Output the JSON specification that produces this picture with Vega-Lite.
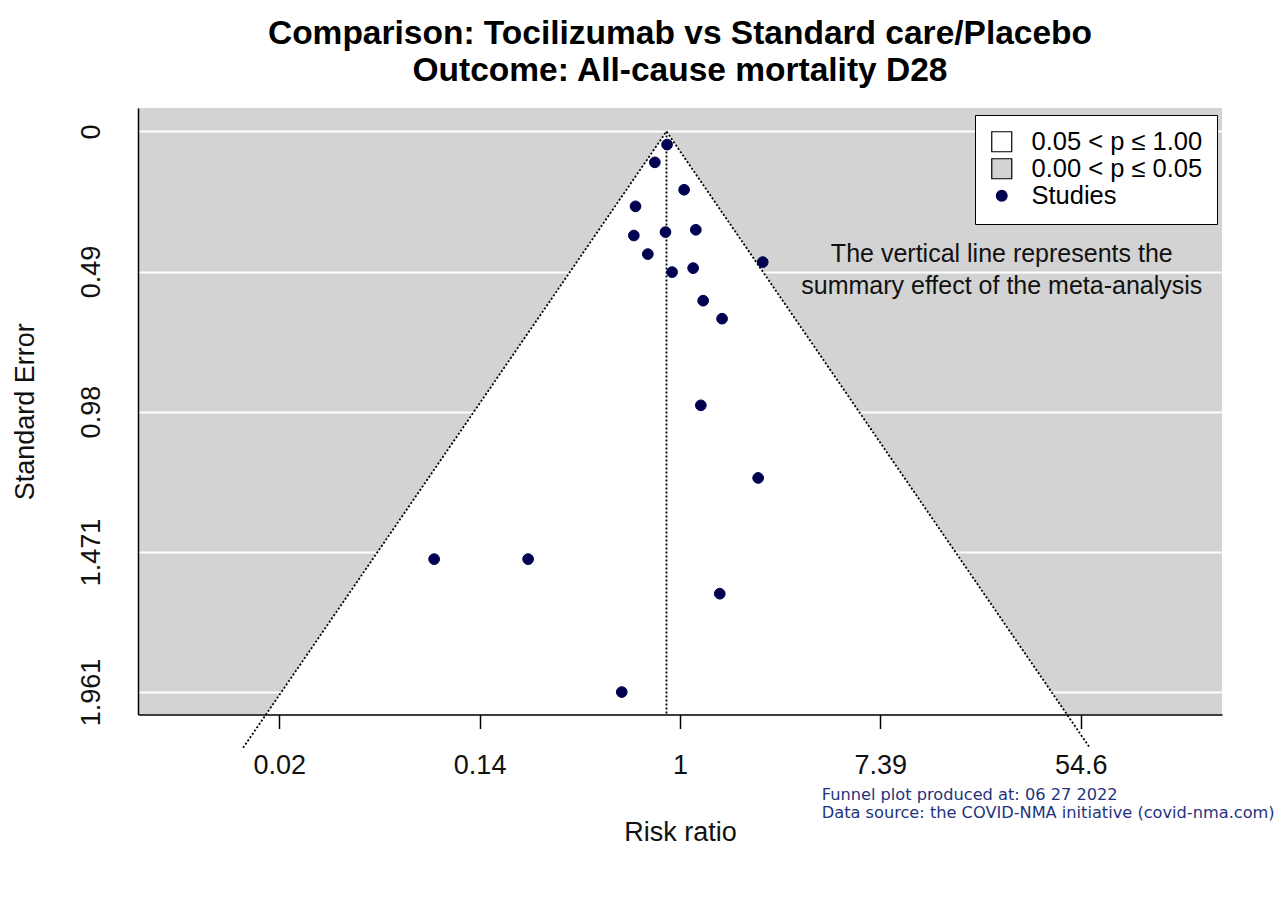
{
  "$schema": "https://vega.github.io/schema/vega-lite/v6.json",
  "width": 1084,
  "height": 606.5,
  "autosize": {"type": "none"},
  "padding": {"left": 138, "top": 108, "right": 66, "bottom": 198.5},
  "background": "white",
  "title": {
    "text": ["Comparison: Tocilizumab vs Standard care/Placebo", "Outcome: All-cause mortality D28"],
    "font": "Liberation Sans",
    "fontSize": 33.5,
    "fontWeight": "bold",
    "color": "black",
    "anchor": "middle",
    "frame": "group",
    "lineHeight": 37,
    "offset": 20
  },
  "config": {
    "view": {"fill": "#d3d3d3", "stroke": null},
    "font": "Liberation Sans"
  },
  "datasets": {
    "studies": [
      {"study": 1, "logrr": -0.129, "se": 0.046, "kind": "Studies"},
      {"study": 2, "logrr": -0.251, "se": 0.108, "kind": "Studies"},
      {"study": 3, "logrr": 0.041, "se": 0.204, "kind": "Studies"},
      {"study": 4, "logrr": -0.444, "se": 0.262, "kind": "Studies"},
      {"study": 5, "logrr": -0.461, "se": 0.364, "kind": "Studies"},
      {"study": 6, "logrr": -0.145, "se": 0.352, "kind": "Studies"},
      {"study": 7, "logrr": 0.158, "se": 0.344, "kind": "Studies"},
      {"study": 8, "logrr": -0.321, "se": 0.429, "kind": "Studies"},
      {"study": 9, "logrr": -0.079, "se": 0.492, "kind": "Studies"},
      {"study": 10, "logrr": 0.131, "se": 0.478, "kind": "Studies"},
      {"study": 11, "logrr": 0.826, "se": 0.457, "kind": "Studies"},
      {"study": 12, "logrr": 0.231, "se": 0.592, "kind": "Studies"},
      {"study": 13, "logrr": 0.42, "se": 0.655, "kind": "Studies"},
      {"study": 14, "logrr": 0.208, "se": 0.958, "kind": "Studies"},
      {"study": 15, "logrr": 0.78, "se": 1.212, "kind": "Studies"},
      {"study": 16, "logrr": -2.454, "se": 1.496, "kind": "Studies"},
      {"study": 17, "logrr": -1.516, "se": 1.496, "kind": "Studies"},
      {"study": 18, "logrr": 0.397, "se": 1.617, "kind": "Studies"},
      {"study": 19, "logrr": -0.581, "se": 1.961, "kind": "Studies"}
    ],
    "funnel": [
      {"se": 0, "lo": -0.135, "hi": -0.135},
      {"se": 2.156, "lo": -4.361, "hi": 4.091}
    ],
    "edges": [
      {"ord": 0, "se": 2.156, "logrr": -4.361},
      {"ord": 1, "se": 0, "logrr": -0.135},
      {"ord": 2, "se": 2.156, "logrr": 4.091}
    ],
    "summary": [
      {"theta": -0.135}
    ]
  },
  "layer": [
    {
      "data": {"name": "funnel"},
      "mark": {"type": "area", "orient": "horizontal", "fill": "white", "clip": true},
      "encoding": {
        "y": {"field": "se", "type": "quantitative", "title": "Standard Error", "scale": {"domain": [-0.082, 2.0395], "reverse": true, "nice": false, "zero": false}},
        "x": {"field": "lo", "type": "quantitative", "title": "Risk ratio", "scale": {"domain": [-5.41, 5.41], "nice": false, "zero": false}},
        "x2": {"field": "hi"}
      }
    },
    {
      "data": {"name": "edges"},
      "mark": {"type": "line", "color": "black", "strokeWidth": 1.8, "strokeDash": [2, 2], "clip": false},
      "encoding": {
        "x": {"field": "logrr", "type": "quantitative", "title": "Risk ratio", "scale": {"domain": [-5.41, 5.41], "nice": false, "zero": false}},
        "y": {"field": "se", "type": "quantitative", "title": "Standard Error", "scale": {"domain": [-0.082, 2.0395], "reverse": true, "nice": false, "zero": false}},
        "order": {"field": "ord", "type": "quantitative"}
      }
    },
    {
      "data": {"name": "summary"},
      "mark": {"type": "rule", "color": "black", "strokeWidth": 1.8, "strokeDash": [2, 2]},
      "encoding": {
        "x": {"field": "theta", "type": "quantitative", "title": "Risk ratio", "scale": {"domain": [-5.41, 5.41], "nice": false, "zero": false}},
        "y": {"datum": 0, "type": "quantitative", "title": "Standard Error", "scale": {"domain": [-0.082, 2.0395], "reverse": true, "nice": false, "zero": false}},
        "y2": {"datum": 2.0395}
      }
    },
    {
      "data": {"name": "studies"},
      "mark": {"type": "point", "filled": true, "strokeWidth": 1, "opacity": 1},
      "encoding": {
        "x": {
          "field": "logrr", "type": "quantitative",
          "scale": {"domain": [-5.41, 5.41], "nice": false, "zero": false},
          "axis": {
            "values": [-4, -2, 0, 2, 4],
            "labelExpr": "format(exp(datum.value), '.2~f')",
            "title": "Risk ratio",
            "grid": false,
            "domainColor": "black", "domainWidth": 1.5,
            "tickColor": "black", "tickWidth": 1.5, "tickSize": 14,
            "labelFont": "Liberation Sans", "labelFontSize": 27, "labelColor": "#111",
            "labelPadding": 24, "labelFlush": false, "labelOverlap": false,
            "titleFont": "Liberation Sans", "titleFontSize": 27, "titleFontWeight": "normal", "titleColor": "#111",
            "titlePadding": 41,
            "zindex": 1
          }
        },
        "y": {
          "field": "se", "type": "quantitative",
          "scale": {"domain": [-0.082, 2.0395], "reverse": true, "nice": false, "zero": false},
          "axis": {
            "values": [0, 0.49, 0.98, 1.471, 1.961],
            "labelExpr": "datum.value + ''",
            "title": "Standard Error",
            "grid": true, "gridColor": "white", "gridWidth": 2, "gridOpacity": 1,
            "ticks": false, "tickSize": 0,
            "domainColor": "black", "domainWidth": 1.5,
            "labelAngle": 270, "labelAlign": "center", "labelBaseline": "bottom",
            "labelFont": "Liberation Sans", "labelFontSize": 27, "labelColor": "#111",
            "labelPadding": 33, "labelFlush": false, "labelOverlap": false,
            "titleFont": "Liberation Sans", "titleFontSize": 27, "titleFontWeight": "normal", "titleColor": "#111",
            "titlePadding": 38,
            "zindex": 0
          }
        },
        "fill": {
          "field": "kind", "type": "nominal",
          "scale": {"domain": ["0.05 < p ≤ 1.00", "0.00 < p ≤ 0.05", "Studies"], "range": ["white", "#d3d3d3", "#000050"]},
          "legend": {
            "title": null, "orient": "none", "legendX": 837, "legendY": 7,
            "fillColor": "white", "strokeColor": "black", "padding": 14,
            "labelFont": "Liberation Sans", "labelFontSize": 25.5, "labelColor": "black", "labelLimit": 300, "labelOffset": 17,
            "symbolStrokeWidth": 1.2, "rowPadding": 0
          }
        },
        "shape": {
          "field": "kind", "type": "nominal",
          "scale": {"domain": ["0.05 < p ≤ 1.00", "0.00 < p ≤ 0.05", "Studies"], "range": ["square", "square", "circle"]},
          "legend": {
            "title": null, "orient": "none", "legendX": 837, "legendY": 7,
            "fillColor": "white", "strokeColor": "black", "padding": 14,
            "labelFont": "Liberation Sans", "labelFontSize": 25.5, "labelColor": "black", "labelLimit": 300, "labelOffset": 17,
            "symbolStrokeWidth": 1.2, "rowPadding": 0
          }
        },
        "stroke": {
          "field": "kind", "type": "nominal",
          "scale": {"domain": ["0.05 < p ≤ 1.00", "0.00 < p ≤ 0.05", "Studies"], "range": ["black", "black", "#000050"]},
          "legend": {
            "title": null, "orient": "none", "legendX": 837, "legendY": 7,
            "fillColor": "white", "strokeColor": "black", "padding": 14,
            "labelFont": "Liberation Sans", "labelFontSize": 25.5, "labelColor": "black", "labelLimit": 300, "labelOffset": 17,
            "symbolStrokeWidth": 1.2, "rowPadding": 0
          }
        },
        "size": {
          "field": "kind", "type": "nominal",
          "scale": {"type": "ordinal", "domain": ["0.05 < p ≤ 1.00", "0.00 < p ≤ 0.05", "Studies"], "range": [400, 400, 115]},
          "legend": {
            "title": null, "orient": "none", "legendX": 837, "legendY": 7,
            "fillColor": "white", "strokeColor": "black", "padding": 14,
            "labelFont": "Liberation Sans", "labelFontSize": 25.5, "labelColor": "black", "labelLimit": 300, "labelOffset": 17,
            "symbolStrokeWidth": 1.2, "rowPadding": 0
          }
        }
      }
    },
    {
      "data": {"values": [{}]},
      "mark": {
        "type": "text",
        "text": ["The vertical line represents the", "summary effect of the meta-analysis"],
        "font": "Liberation Sans", "fontSize": 25, "lineHeight": 32,
        "align": "center", "baseline": "middle", "color": "#111"
      },
      "encoding": {
        "x": {"datum": 3.212, "type": "quantitative", "title": "Risk ratio", "scale": {"domain": [-5.41, 5.41], "nice": false, "zero": false}},
        "y": {"datum": 0.428, "type": "quantitative", "title": "Standard Error", "scale": {"domain": [-0.082, 2.0395], "reverse": true, "nice": false, "zero": false}}
      }
    },
    {
      "data": {"values": [{}]},
      "mark": {
        "type": "text",
        "text": ["Funnel plot produced at: 06 27 2022", "Data source: the COVID-NMA initiative (covid-nma.com)"],
        "font": "DejaVu Sans", "fontSize": 16.2, "lineHeight": 18,
        "align": "left", "baseline": "middle", "color": "#24337d"
      },
      "encoding": {
        "x": {"datum": 1.415, "type": "quantitative", "title": "Risk ratio", "scale": {"domain": [-5.41, 5.41], "nice": false, "zero": false}},
        "y": {"datum": 2.32, "type": "quantitative", "title": "Standard Error", "scale": {"domain": [-0.082, 2.0395], "reverse": true, "nice": false, "zero": false}}
      }
    }
  ]
}
